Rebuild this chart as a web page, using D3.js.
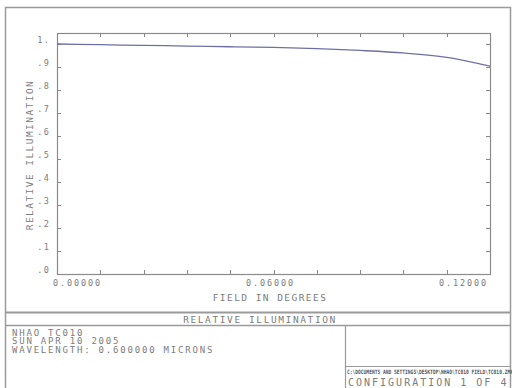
<!DOCTYPE html>
<html>
<head>
<meta charset="utf-8">
<script src="https://cdn.jsdelivr.net/npm/d3@7"></script>
<style>
  html, body { margin: 0; padding: 0; background: #fff; }
  svg { display: block; }
  text { font-family: "DejaVu Sans Mono", "Liberation Mono", monospace; fill: #7c7c7c; }
</style>
</head>
<body>
<script>
// Relative illumination vs. field angle
const fieldDeg = [0.000, 0.012, 0.024, 0.036, 0.048, 0.060, 0.072, 0.084, 0.096, 0.108, 0.120];
const relIllum = [1.000, 0.997, 0.994, 0.991, 0.988, 0.985, 0.980, 0.972, 0.961, 0.942, 0.904];
const xTickLabels = ["0.00000", "0.06000", "0.12000"];
const yTickValues = [0, 0.1, 0.2, 0.3, 0.4, 0.5, 0.6, 0.7, 0.8, 0.9, 1.0];
const yTickLabels = [".0", ".1", ".2", ".3", ".4", ".5", ".6", ".7", ".8", ".9", "1."];
const headerLines = ["NHAO TC010", "SUN APR 10 2005", "WAVELENGTH: 0.600000 MICRONS"];
const plotTitle = "RELATIVE ILLUMINATION";
const xTitle = "FIELD IN DEGREES";
const yTitle = "RELATIVE ILLUMINATION";
const filePath = "C:\\DOCUMENTS AND SETTINGS\\DESKTOP\\NHAO\\TC010 FIELD\\TC010.ZMX";
const configText = "CONFIGURATION 1 OF 4";

const W = 512, H = 388;
const svg = d3.select("body").append("svg").attr("width", W).attr("height", H);

const frameColor = "#9a9a9a";
const axisColor = "#8a8a8a";

// Outer frame and dividers
const g0 = svg.append("g").attr("stroke", frameColor).attr("fill", "none");
g0.append("path").attr("d", "M5.5,388 V7.5 H510.5 V388").attr("stroke-width", 1.5);
g0.append("line").attr("x1", 5).attr("x2", 511).attr("y1", 312.5).attr("y2", 312.5).attr("stroke-width", 2);
g0.append("line").attr("x1", 5).attr("x2", 511).attr("y1", 325.5).attr("y2", 325.5).attr("stroke-width", 1.5);
g0.append("line").attr("x1", 345.5).attr("x2", 345.5).attr("y1", 325).attr("y2", 388).attr("stroke-width", 1.2);
g0.append("line").attr("x1", 345).attr("x2", 511).attr("y1", 366.5).attr("y2", 366.5).attr("stroke-width", 1.2);

// Plot area
const plotL = 57, plotR = 490, plotT = 33, plotB = 274;
const x = d3.scaleLinear().domain([0, 0.12]).range([plotL, plotR]);
const y = d3.scaleLinear().domain([0, 1.0478]).range([plotB, plotT]);

const xTickVals = d3.range(0, 11).map(i => i * 0.012);

const tickLen = 4;
const axisG = svg.append("g").attr("stroke", axisColor).attr("fill", "none");
axisG.append("rect").attr("x", plotL + 0.5).attr("y", plotT + 0.5)
  .attr("width", plotR - plotL).attr("height", plotB - plotT).attr("stroke-width", 1.2);

// ticks on all four sides, pointing inward
xTickVals.slice(1, -1).forEach(v => {
  const px = Math.round(x(v)) + 0.5;
  axisG.append("line").attr("x1", px).attr("x2", px).attr("y1", plotB).attr("y2", plotB - tickLen);
  axisG.append("line").attr("x1", px).attr("x2", px).attr("y1", plotT).attr("y2", plotT + tickLen);
});
yTickValues.slice(1).forEach(v => {
  const py = Math.round(y(v)) + 0.5;
  axisG.append("line").attr("x1", plotL).attr("x2", plotL + tickLen).attr("y1", py).attr("y2", py);
  axisG.append("line").attr("x1", plotR).attr("x2", plotR - tickLen).attr("y1", py).attr("y2", py);
});

const txtStyle = (sel, size, ls) => sel.attr("font-size", size).attr("letter-spacing", ls);

// y tick labels
yTickValues.forEach((v, i) => {
  svg.append("text").attr("x", 50).attr("y", y(v) - 1)
    .attr("text-anchor", "end").text(yTickLabels[i])
    .call(txtStyle, 8.5, 1.2);
});

// x tick labels: first left aligned, middle centered, last right aligned
const xLabelPos = [{v: 0, a: "start", dx: -4}, {v: 0.06, a: "middle", dx: -3}, {v: 0.12, a: "end", dx: -2}];
xLabelPos.forEach((p, i) => {
  svg.append("text").attr("x", x(p.v) + p.dx).attr("y", 285.5)
    .attr("text-anchor", p.a).text(xTickLabels[i])
    .call(txtStyle, 8.5, 1.9);
});

// axis titles
svg.append("text").attr("x", 270).attr("y", 301)
  .attr("text-anchor", "middle").text(xTitle).call(txtStyle, 9.5, 1.45);
svg.append("text").attr("transform", "translate(33,155) rotate(-90)")
  .attr("text-anchor", "middle").text(yTitle).call(txtStyle, 9.5, 1.45);

// curve
const line = d3.line().x((d, i) => x(fieldDeg[i])).y(d => y(d)).curve(d3.curveMonotoneX);
svg.append("path").datum(relIllum).attr("d", line)
  .attr("fill", "none").attr("stroke", "#6f6fa6").attr("stroke-width", 1.3);

// title bar
svg.append("text").attr("x", 260).attr("y", 323).attr("text-anchor", "middle")
  .text(plotTitle).call(txtStyle, 9.5, 1.6);

// header info
headerLines.forEach((t, i) => {
  svg.append("text").attr("x", 12).attr("y", 335.5 + i * 8.5)
    .text(t).call(txtStyle, 9, 1.8);
});

// file path strip and configuration
svg.append("text").attr("transform", "translate(347,374) scale(1,1.3)").text(filePath)
  .attr("font-size", 4.6).attr("font-weight", "bold")
  .style("fill", "#555");
svg.append("text").attr("x", 348).attr("y", 386).text(configText)
  .call(txtStyle, 10, 2.0);
</script>
</body>
</html>
